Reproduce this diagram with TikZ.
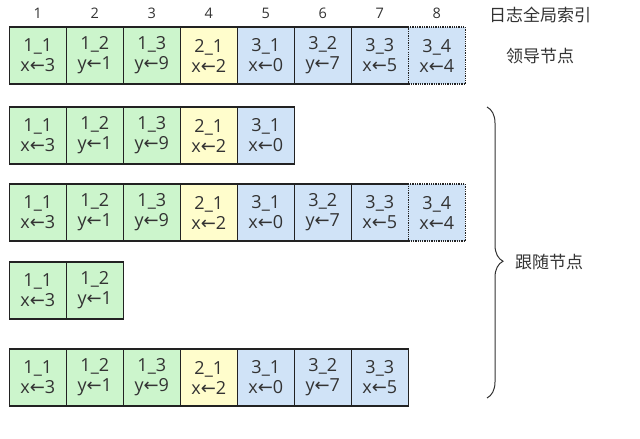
\documentclass[tikz,border=0pt]{standalone}
\usepackage{fontspec}
\setmainfont{Open Sans}
\newfontfamily\cjk{Noto Sans CJK SC}
\newfontfamily\arrowfont{DejaVu Sans}
\usepackage{xcolor}
\usetikzlibrary{positioning}
\usetikzlibrary{decorations.pathreplacing}
\definecolor{termone}{HTML}{CCF5CC}
\definecolor{termtwo}{HTML}{FFFDCC}
\definecolor{termthree}{HTML}{D0E3F7}
\definecolor{ink}{HTML}{333333}
\definecolor{rim}{HTML}{222222}
\tikzset{log node/.style={rectangle,draw=rim,line width=1.3pt,minimum size=57pt,inner sep=0pt,outer sep=0pt,align=center,text=ink,font=\fontsize{18}{20}\selectfont}}
\tikzset{t1/.style={fill=termone},t2/.style={fill=termtwo},t3/.style={fill=termthree}}
\tikzset{index node/.style={inner sep=0pt,text=ink,font=\fontsize{14.5}{16}\selectfont}}
\tikzset{cjk node/.style={inner sep=0pt,text=ink,font=\cjk\fontsize{17}{19}\selectfont}}
\newcommand{\lgets}{{\arrowfont ←}}

\begin{document}
\begin{tikzpicture}[x=1pt,y=-1pt]
    \useasboundingbox (0,0) rectangle (640,439);

    % leader
    \node[log node,t1] (l_{1}) at (37.8,55.5) {1\_1\\x\lgets3};
    \node[log node,t1] (l_{2}) [right = 0pt of l_{1}] {1\_2\\y\lgets1};
    \node[log node,t1] (l_{3}) [right = 0pt of l_{2}] {1\_3\\y\lgets9};
    \node[log node,t2] (l_{4}) [right = 0pt of l_{3}] {2\_1\\x\lgets2};
    \node[log node,t3] (l_{5}) [right = 0pt of l_{4}] {3\_1\\x\lgets0};
    \node[log node,t3] (l_{6}) [right = 0pt of l_{5}] {3\_2\\y\lgets7};
    \node[log node,t3] (l_{7}) [right = 0pt of l_{6}] {3\_3\\x\lgets5};
    \node[log node,t3,densely dotted] (l_{8}) [right = 0pt of l_{7}] {3\_4\\x\lgets4};

    % index
    \node[index node] (i_{1}) [above = 8pt of l_{1}] {1};
    \node[index node] (i_{2}) [above = 8pt of l_{2}] {2};
    \node[index node] (i_{3}) [above = 8pt of l_{3}] {3};
    \node[index node] (i_{4}) [above = 8pt of l_{4}] {4};
    \node[index node] (i_{5}) [above = 8pt of l_{5}] {5};
    \node[index node] (i_{6}) [above = 8pt of l_{6}] {6};
    \node[index node] (i_{7}) [above = 8pt of l_{7}] {7};
    \node[index node] (i_{8}) [above = 8pt of l_{8}] {8};
    \node[cjk node] (index) at (540,14.5) {日志全局索引};
    \node[cjk node] (leader) at (540,56) {领导节点};

    % followers
    \node[log node,t1] (a_{1}) at (37.8,135.5) {1\_1\\x\lgets3};
    \node[log node,t1] (a_{2}) [right = 0pt of a_{1}] {1\_2\\y\lgets1};
    \node[log node,t1] (a_{3}) [right = 0pt of a_{2}] {1\_3\\y\lgets9};
    \node[log node,t2] (a_{4}) [right = 0pt of a_{3}] {2\_1\\x\lgets2};
    \node[log node,t3] (a_{5}) [right = 0pt of a_{4}] {3\_1\\x\lgets0};

    \node[log node,t1] (b_{1}) at (37.8,212.5) {1\_1\\x\lgets3};
    \node[log node,t1] (b_{2}) [right = 0pt of b_{1}] {1\_2\\y\lgets1};
    \node[log node,t1] (b_{3}) [right = 0pt of b_{2}] {1\_3\\y\lgets9};
    \node[log node,t2] (b_{4}) [right = 0pt of b_{3}] {2\_1\\x\lgets2};
    \node[log node,t3] (b_{5}) [right = 0pt of b_{4}] {3\_1\\x\lgets0};
    \node[log node,t3] (b_{6}) [right = 0pt of b_{5}] {3\_2\\y\lgets7};
    \node[log node,t3] (b_{7}) [right = 0pt of b_{6}] {3\_3\\x\lgets5};
    \node[log node,t3,densely dotted] (b_{8}) [right = 0pt of b_{7}] {3\_4\\x\lgets4};

    \node[log node,t1] (c_{1}) at (37.8,290.5) {1\_1\\x\lgets3};
    \node[log node,t1] (c_{2}) [right = 0pt of c_{1}] {1\_2\\y\lgets1};

    \node[log node,t1] (d_{1}) at (37.8,377.5) {1\_1\\x\lgets3};
    \node[log node,t1] (d_{2}) [right = 0pt of d_{1}] {1\_2\\y\lgets1};
    \node[log node,t1] (d_{3}) [right = 0pt of d_{2}] {1\_3\\y\lgets9};
    \node[log node,t2] (d_{4}) [right = 0pt of d_{3}] {2\_1\\x\lgets2};
    \node[log node,t3] (d_{5}) [right = 0pt of d_{4}] {3\_1\\x\lgets0};
    \node[log node,t3] (d_{6}) [right = 0pt of d_{5}] {3\_2\\y\lgets7};
    \node[log node,t3] (d_{7}) [right = 0pt of d_{6}] {3\_3\\x\lgets5};

    % brace
    \coordinate (top) at (487,107);
    \coordinate (bottom) at (487,398);
    \draw[decorate,decoration={brace,amplitude=16pt,aspect=0.53},line width=1pt,draw=ink] (top) -- (bottom);
    \node[cjk node,anchor=west] (follow) at (515,262) {跟随节点};
\end{tikzpicture}
\end{document}
